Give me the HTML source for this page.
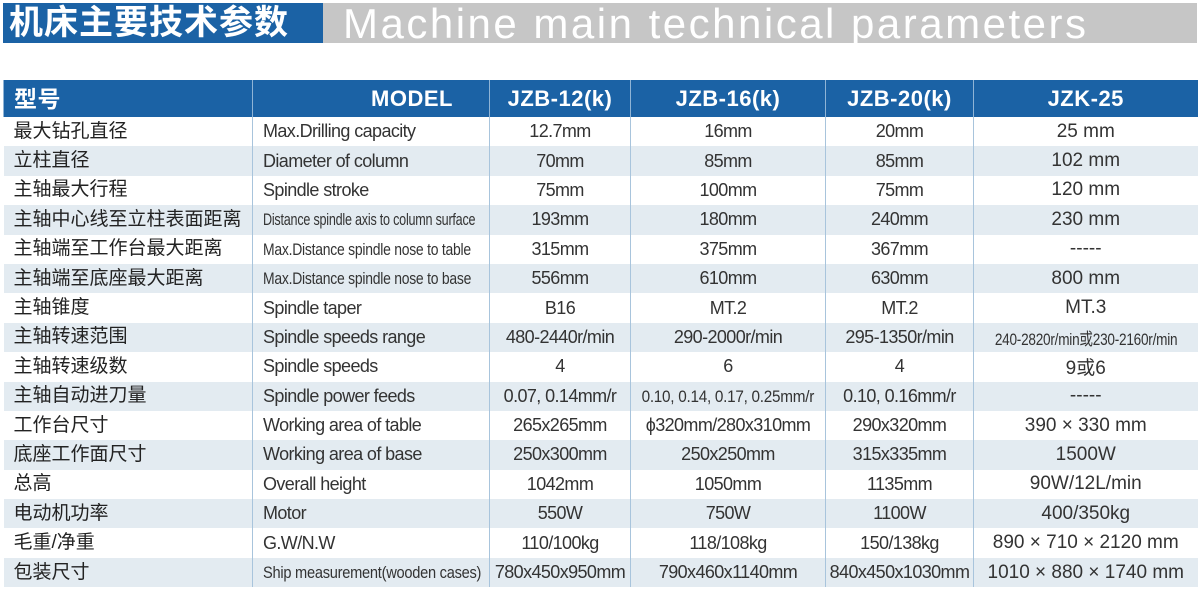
<!DOCTYPE html>
<html><head><meta charset="utf-8"><style>
body{margin:0;width:1200px;height:590px;background:#fff;position:relative;overflow:hidden;font-family:"Liberation Sans","Noto Sans CJK SC",sans-serif;}
.tb{position:absolute;top:3px;left:3px;width:320px;height:40px;background:#1b62a5;color:#fff;font-size:34px;font-weight:bold;line-height:40px;padding-left:6px;box-sizing:border-box;letter-spacing:1px;white-space:nowrap;overflow:hidden}
.tg{position:absolute;top:3px;left:323px;width:874px;height:40px;background:#c6c6c6;color:#fff;font-size:42px;line-height:42px;padding-left:20px;box-sizing:border-box;white-space:nowrap;letter-spacing:2.5px;overflow:hidden}
table{position:absolute;left:3px;top:80px;border-collapse:collapse;table-layout:fixed;width:1194px}
td{padding:0;height:29.4px;font-size:18px;color:#333;text-align:center;border-left:1px solid #a8c4dc;white-space:nowrap;overflow:hidden;letter-spacing:-0.6px;vertical-align:middle}
td:first-child{border-left:none;text-align:left;padding-left:10px;letter-spacing:0;font-size:19px;color:#222;line-height:22px}
td:nth-child(2){text-align:left;padding-left:10px}
tr:nth-child(odd) td{background:#e3ebf1}
tr.h td{background:#1b62a5;color:#fff;font-weight:bold;font-size:22px;height:37px;border-left:1px solid #8fb4d6;letter-spacing:0.5px}
tr.h td:first-child{font-size:23px}
tr.h td:nth-child(2){text-align:right;padding-right:36px}
.c{display:inline-block;transform:scaleX(0.82);transform-origin:left center;font-size:17px;letter-spacing:-0.3px}
.cc{display:inline-block;transform:scaleX(0.8);font-size:17px;letter-spacing:-0.3px}
.b{font-size:19px;letter-spacing:0}
</style></head><body>
<div class="tb">机床主要技术参数</div>
<div class="tg">Machine main technical parameters</div>
<table>
<colgroup><col style="width:249px"><col style="width:237px"><col style="width:141px"><col style="width:195px"><col style="width:148px"><col style="width:224px"></colgroup>
<tr class="h"><td>型号</td><td>MODEL</td><td>JZB-12(k)</td><td>JZB-16(k)</td><td>JZB-20(k)</td><td>JZK-25</td></tr>
<tr><td>最大钻孔直径</td><td>Max.Drilling capacity</td><td>12.7mm</td><td>16mm</td><td>20mm</td><td class="b">25 mm</td></tr>
<tr><td>立柱直径</td><td>Diameter of column</td><td>70mm</td><td>85mm</td><td>85mm</td><td class="b">102 mm</td></tr>
<tr><td>主轴最大行程</td><td>Spindle stroke</td><td>75mm</td><td>100mm</td><td>75mm</td><td class="b">120 mm</td></tr>
<tr><td>主轴中心线至立柱表面距离</td><td><span class="c" style="transform:scaleX(0.74)">Distance spindle axis to column surface</span></td><td>193mm</td><td>180mm</td><td>240mm</td><td class="b">230 mm</td></tr>
<tr><td>主轴端至工作台最大距离</td><td><span class="c">Max.Distance spindle nose to table</span></td><td>315mm</td><td>375mm</td><td>367mm</td><td class="b">-----</td></tr>
<tr><td>主轴端至底座最大距离</td><td><span class="c">Max.Distance spindle nose to base</span></td><td>556mm</td><td>610mm</td><td>630mm</td><td class="b">800 mm</td></tr>
<tr><td>主轴锥度</td><td>Spindle taper</td><td>B16</td><td>MT.2</td><td>MT.2</td><td class="b">MT.3</td></tr>
<tr><td>主轴转速范围</td><td>Spindle speeds range</td><td>480-2440r/min</td><td>290-2000r/min</td><td>295-1350r/min</td><td><span class="cc" style="margin-left:-30px;margin-right:-30px">240-2820r/min或230-2160r/min</span></td></tr>
<tr><td>主轴转速级数</td><td>Spindle speeds</td><td>4</td><td>6</td><td>4</td><td class="b">9或6</td></tr>
<tr><td>主轴自动进刀量</td><td>Spindle power feeds</td><td>0.07, 0.14mm/r</td><td><span class="cc" style="transform:scaleX(0.9);margin:0 -10px">0.10, 0.14, 0.17, 0.25mm/r</span></td><td>0.10, 0.16mm/r</td><td class="b">-----</td></tr>
<tr><td>工作台尺寸</td><td>Working area of table</td><td>265x265mm</td><td>ϕ320mm/280x310mm</td><td>290x320mm</td><td class="b">390 × 330 mm</td></tr>
<tr><td>底座工作面尺寸</td><td>Working area of base</td><td>250x300mm</td><td>250x250mm</td><td>315x335mm</td><td class="b">1500W</td></tr>
<tr><td>总高</td><td>Overall height</td><td>1042mm</td><td>1050mm</td><td>1135mm</td><td class="b">90W/12L/min</td></tr>
<tr><td>电动机功率</td><td>Motor</td><td>550W</td><td>750W</td><td>1100W</td><td class="b">400/350kg</td></tr>
<tr><td>毛重/净重</td><td>G.W/N.W</td><td>110/100kg</td><td>118/108kg</td><td>150/138kg</td><td class="b">890 × 710 × 2120 mm</td></tr>
<tr><td>包装尺寸</td><td><span class="c" style="transform:scaleX(0.86)">Ship measurement(wooden cases)</span></td><td>780x450x950mm</td><td>790x460x1140mm</td><td>840x450x1030mm</td><td class="b">1010 × 880 × 1740 mm</td></tr>
</table>
</body></html>
